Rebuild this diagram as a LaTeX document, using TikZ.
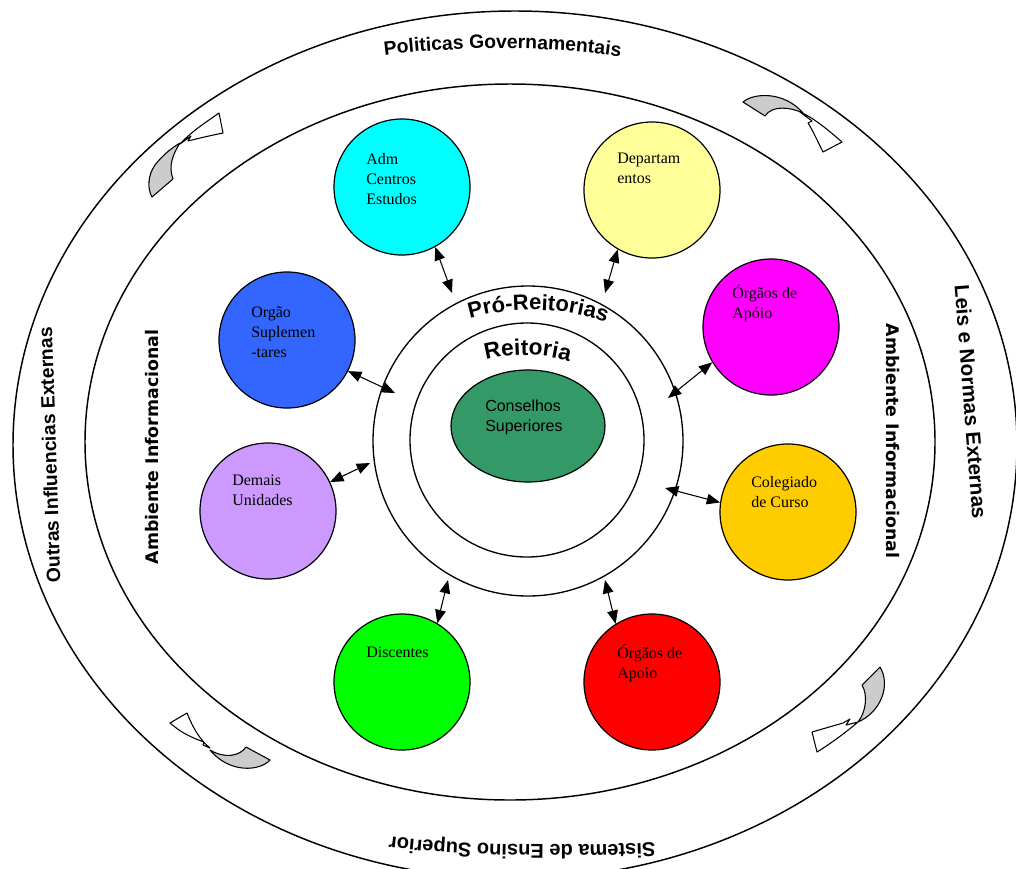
\documentclass[tikz,border=0pt]{standalone}
\usepackage{fontspec}
\setmainfont{Liberation Serif}
\newfontfamily\arialfont{Liberation Sans}
\newfontfamily\heavyfont{DejaVu Sans}
\usetikzlibrary{arrows.meta,decorations.text,shapes.geometric}
\definecolor{cCyan}{HTML}{00FFFF}
\definecolor{cYellow}{HTML}{FFFF99}
\definecolor{cMagenta}{HTML}{FF00FF}
\definecolor{cBlue}{HTML}{3366FF}
\definecolor{cLav}{HTML}{CC99FF}
\definecolor{cGold}{HTML}{FFCC00}
\definecolor{cGreen}{HTML}{00FF00}
\definecolor{cRed}{HTML}{FF0000}
\definecolor{cSea}{HTML}{339966}
\definecolor{tailcol}{HTML}{CCCCCC}
\begin{document}
\begin{tikzpicture}[x=0.75pt,y=-0.75pt,
  ell/.style={line width=1.1pt},
  sat/.style={circle, draw, line width=0.9pt, minimum size=102pt, inner sep=0pt},
  lbl/.style={anchor=north west, inner sep=0pt, align=left, font=\fontsize{12}{15}\selectfont},
  link/.style={{Triangle[length=10pt,width=8pt]}-{Triangle[length=10pt,width=8pt]}, line width=0.8pt},
  tailgray/.style={fill=tailcol, draw, line width=0.8pt, line join=round},
  headwhite/.style={fill=white, draw, line width=0.8pt, line join=round},
  side/.style={font=\heavyfont\bfseries\fontsize{13}{15}\selectfont, inner sep=0pt}
]
\clip (0,0) rectangle (1016,868);
\fill[white] (0,0) rectangle (1016,868);

% ellipses
\draw[ell] (515,445) ellipse [x radius=502, y radius=434];
\draw[ell] (510,442) ellipse [x radius=425, y radius=358];

% central rings
\node[circle, draw, line width=1pt, minimum size=232.5pt, inner sep=0pt] (pro) at (528,441) {};
\node[circle, draw, line width=1pt, minimum size=175.5pt, inner sep=0pt] (rei) at (527,440) {};
\node[ellipse, draw, line width=0.9pt, fill=cSea, minimum width=115.5pt, minimum height=84pt, inner sep=0pt] (cons) at (528,426) {};
\node[anchor=north west, inner sep=0pt, align=left, font=\arialfont\fontsize{12}{15}\selectfont] (consl) at (485,400) {Conselhos\\Superiores};

% satellites
\node[sat, fill=cCyan] (adm) at (402,187) {};
\node[sat, fill=cYellow] (dep) at (652,190) {};
\node[sat, fill=cMagenta] (oap1) at (771,327) {};
\node[sat, fill=cBlue] (sup) at (287,340) {};
\node[sat, fill=cLav] (dem) at (268,511) {};
\node[sat, fill=cGold] (col) at (788,512) {};
\node[sat, fill=cGreen] (dis) at (402,682) {};
\node[sat, fill=cRed] (oap2) at (652,682) {};

\node[lbl] (admt) at (366,153) {Adm\\Centros\\Estudos};
\node[lbl] (dept) at (617,153) {Departam\\entos};
\node[lbl] (oap1t) at (732,284) {Órgãos de\\Apóio};
\node[lbl] (supt) at (251,306) {Orgão\\Suplemen\\-tares};
\node[lbl] (demt) at (232,475) {Demais\\Unidades};
\node[lbl] (colt) at (751,476) {Colegiado\\de Curso};
\node[lbl] (dist) at (366,647) {Discentes};
\node[lbl] (oap2t) at (617,644) {Órgãos de\\Apoio};

% connectors
\coordinate (p1) at (452,293);
\coordinate (p2) at (605,293);
\coordinate (p3) at (395,393);
\coordinate (p4) at (370,463);
\coordinate (p5) at (668,398);
\coordinate (p6) at (665,488);
\coordinate (p7) at (448,580);
\coordinate (p8) at (605,580);
\draw[link] (adm.-61) -- (p1);
\draw[link] (dep.-120) -- (p2);
\draw[link] (sup.-27) -- (p3);
\draw[link] (dem.25) -- (p4);
\draw[link] (oap1.-149) -- (p5);
\draw[link] (col.172) -- (p6);
\draw[link] (dis.59) -- (p7);
\draw[link] (oap2.122) -- (p8);

% curved ring labels
\path[decorate, decoration={text along path, text align=center,
  text={|\arialfont\bfseries\fontsize{16.5}{18}\selectfont|Pró-Reitorias}}]
  (445,328) .. controls (495,303) and (580,303) .. (630,334);
\path[decorate, decoration={text along path, text align=center,
  text={|\arialfont\bfseries\fontsize{17}{19}\selectfont|Reitoria}}]
  (470,366) .. controls (500,351) and (553,351) .. (585,368);

% outer labels
\path[decorate, decoration={text along path, text align=center,
  text={|\arialfont\bfseries\fontsize{14.5}{16}\selectfont|Politicas Governamentais}}]
  (365,58) .. controls (445,45) and (565,45) .. (640,60);
\path[decorate, decoration={text along path, text align=center,
  text={|\arialfont\bfseries\fontsize{15}{17}\selectfont|Sistema de Ensino Superior}}]
  (670,842) .. controls (575,847) and (455,846) .. (375,835);
\path[decorate, decoration={text along path, text align=center,
  text={|\arialfont\bfseries\fontsize{14.5}{16}\selectfont|Outras Influencias Externas}}]
  (61,605) .. controls (58,505) and (55,405) .. (51,305);
\path[decorate, decoration={text along path, text align=center,
  text={|\arialfont\bfseries\fontsize{15.5}{17}\selectfont|Leis e Normas Externas}}]
  (953,265) .. controls (960,355) and (967,445) .. (974,540);

% inner side labels
\node[side, rotate=90] (ambl) at (152,447) {Ambiente Informacional};
\node[side, rotate=-90] (ambr) at (893,441) {Ambiente Informacional};

% decorative curved arrows
% upper-left
\draw[tailgray] (152,197) .. controls (147,188) and (148,175) .. (155,165)
  .. controls (162,156) and (170,149) .. (180,143)
  .. controls (173,154) and (168,166) .. (173,179) -- cycle;
\draw[headwhite] (180,144) .. controls (192,131) and (205,123) .. (219,113)
  -- (223,133) .. controls (208,136) and (196,139) .. (188,141)
  -- (191,136) -- cycle;
% upper-right
\draw[tailgray] (743,102) .. controls (755,92) and (785,92) .. (803,113)
  .. controls (790,107) and (772,105) .. (765,116) -- cycle;
\draw[headwhite] (800,112) .. controls (812,117) and (826,128) .. (842,142)
  -- (823,152) .. controls (817,140) and (812,129) .. (808,123)
  -- (812,121) -- cycle;
% lower-left
\draw[headwhite] (170,723) -- (187,713) .. controls (193,728) and (200,740) .. (210,748)
  -- (203,745) -- (204,742) .. controls (192,738) and (181,732) .. (175,727) -- cycle;
\draw[tailgray] (210,750) .. controls (225,759) and (240,756) .. (246,747)
  -- (270,760) .. controls (260,771) and (230,774) .. cycle;
% lower-right
\draw[tailgray] (862,685) -- (880,667) .. controls (891,685) and (881,712) .. (858,722)
  .. controls (866,712) and (868,695) .. cycle;
\draw[headwhite] (812,732) -- (843,723) -- (850,719) -- (846,725) -- (858,722)
  .. controls (845,733) and (830,744) .. (817,752) -- cycle;
\end{tikzpicture}
\end{document}
